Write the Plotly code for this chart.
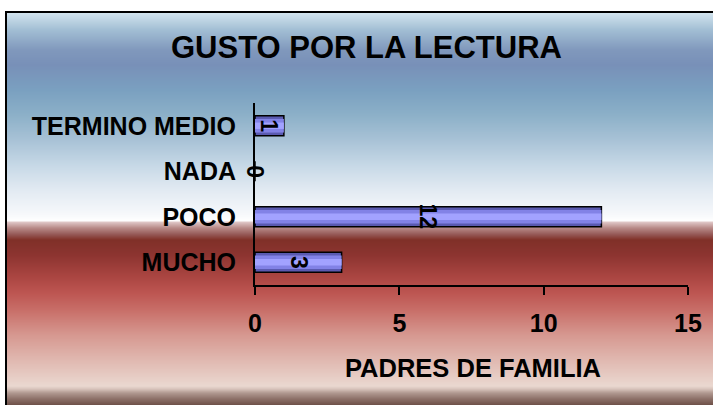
import plotly.graph_objects as go

# ---- data ----
categories = ["MUCHO", "POCO", "NADA", "TERMINO MEDIO"]
values = [3, 12, 0, 1]
x_ticks = [0, 5, 10, 15]
title_text = "GUSTO POR LA LECTURA"
x_title = "PADRES DE FAMILIA"

W, H = 713, 405
FONT = "Liberation Sans, Arial, sans-serif"

def px_x(p):
    return p / W

def px_y(p):
    return 1 - p / H

# background gradient stops (pixel row, colour)
grad_stops = [
    (13, "#d2e4ee"), (30, "#a2bed4"), (50, "#8098bc"), (65, "#7890b8"),
    (90, "#7aa0c0"), (115, "#8cb0c8"), (140, "#a8c2d6"), (165, "#c6d8e6"),
    (190, "#e2eaf2"), (214, "#f6f8fb"), (221, "#ffffff"), (222, "#e0c8c8"),
    (228, "#b88a88"), (234, "#975c5a"), (240, "#803028"), (255, "#8c3430"),
    (275, "#a84440"), (292, "#bc5450"), (310, "#c86e68"), (335, "#d69890"),
    (360, "#e0b8b0"), (386, "#ead8d0"), (389, "#d8c4bc"), (393, "#b09890"),
    (399, "#8c7068"), (405, "#6e5048"),
]

def hex2rgb(h):
    h = h.lstrip("#")
    return tuple(int(h[i:i + 2], 16) for i in (0, 2, 4))

def color_at(y):
    for (y0, c0), (y1, c1) in zip(grad_stops[:-1], grad_stops[1:]):
        if y0 <= y <= y1:
            t = 0 if y1 == y0 else (y - y0) / (y1 - y0)
            a, b = hex2rgb(c0), hex2rgb(c1)
            return "rgb(%d,%d,%d)" % tuple(round(a[i] + (b[i] - a[i]) * t) for i in range(3))
    return grad_stops[-1][1] if y > grad_stops[-1][0] else grad_stops[0][1]

shapes = []
for row in range(12, H):
    shapes.append(dict(type="rect", xref="paper", yref="paper",
                       x0=px_x(6), x1=1.0, y0=px_y(row + 1), y1=px_y(row),
                       fillcolor=color_at(row + 0.5), line=dict(width=0),
                       layer="below"))
# chart border
shapes.append(dict(type="rect", xref="paper", yref="paper",
                   x0=px_x(6), x1=1.02, y0=-0.02, y1=px_y(12),
                   fillcolor="rgba(0,0,0,0)", line=dict(color="black", width=2),
                   layer="above"))

fig = go.Figure()
fig.add_trace(go.Bar(x=values, y=categories, orientation="h", width=0.44,
                     marker=dict(color="#5a5ab0", line=dict(color="black", width=1.5)),
                     hoverinfo="skip"))
fig.add_trace(go.Bar(x=values, y=categories, orientation="h", width=0.30,
                     marker=dict(color="#8282e6", line=dict(width=0)),
                     hoverinfo="skip"))
fig.add_trace(go.Bar(x=values, y=categories, orientation="h", width=0.14,
                     marker=dict(color="#a2a2ff", line=dict(width=0)),
                     hoverinfo="skip"))

annotations = [
    dict(text="<b>%s</b>" % title_text, xref="paper", yref="paper",
         x=px_x(367), y=px_y(48), showarrow=False,
         font=dict(family=FONT, size=31, color="black"),
         xanchor="center", yanchor="middle"),
    dict(text="<b>%s</b>" % x_title, xref="paper", yref="paper",
         x=px_x(473), y=px_y(368), showarrow=False,
         font=dict(family=FONT, size=25.5, color="black"),
         xanchor="center", yanchor="middle"),
]
for c, v in zip(categories, values):
    annotations.append(dict(text="<b>%d</b>" % v, x=v / 2, y=c, xref="x", yref="y",
                            showarrow=False, textangle=90,
                            font=dict(family=FONT, size=23, color="black"),
                            xanchor="center", yanchor="middle"))

fig.update_layout(
    width=W, height=H, autosize=False,
    margin=dict(l=0, r=0, t=0, b=0),
    paper_bgcolor="white", plot_bgcolor="rgba(0,0,0,0)",
    barmode="overlay", showlegend=False,
    shapes=shapes, annotations=annotations,
    xaxis=dict(domain=[px_x(255), px_x(688)], range=[0, 15],
               tickvals=x_ticks, ticks="outside", ticklen=8, tickwidth=2,
               tickcolor="black", showline=True, linecolor="black", linewidth=2,
               showgrid=False, zeroline=False, automargin=False,
               ticklabelstandoff=7,
               tickfont=dict(family=FONT, size=25, color="black", weight="bold")),
    yaxis=dict(domain=[px_y(285), px_y(103)], range=[-0.5, 3.5],
               categoryorder="array", categoryarray=categories,
               showline=True, linecolor="black", linewidth=2, ticks="",
               showgrid=False, zeroline=False, automargin=False,
               ticklabelstandoff=12,
               tickfont=dict(family=FONT, size=25, color="black", weight="bold")),
)

fig.write_html("out.html", config={"displayModeBar": False},
               post_script="document.body.style.margin='0';")
